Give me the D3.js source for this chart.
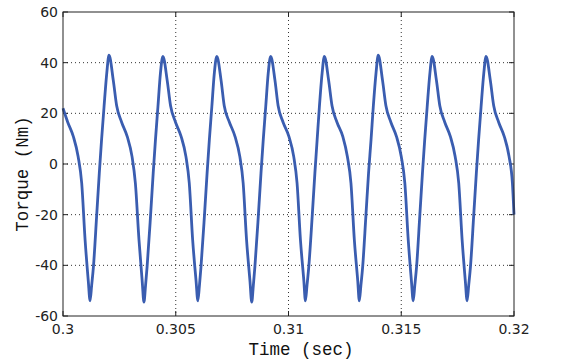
<!DOCTYPE html>
<html lang="en">
<head>
    <meta charset="UTF-8">
    <title>Torque</title>
    <script src="https://d3js.org/d3.v7.min.js"></script>
    <style>
        body { margin: 0; background: white; }
        .tick-label { font-family: "DejaVu Sans", sans-serif; font-size: 14px; fill: #222; }
        .axis-title { font-family: "Liberation Mono", "Courier New", monospace; font-size: 17.5px; fill: #111; }
        .grid { stroke: #333; stroke-width: 1; stroke-dasharray: 1,3; }
    </style>
</head>
<body>
    <svg id="chart" width="568" height="363"></svg>
    <script>
        // Time (sec) and torque (Nm)
        const time = [
            0.30000, 0.30021, 0.30046, 0.30067, 0.30083, 0.30098, 0.30112, 0.30120, 0.30127, 0.30135, 0.30149, 0.30161, 0.30171, 0.30182, 0.30194,
            0.30204, 0.30223, 0.30238, 0.30260, 0.30285, 0.30306, 0.30321, 0.30337, 0.30351, 0.30359, 0.30366, 0.30373, 0.30388, 0.30400, 0.30410, 0.30421, 0.30432,
            0.30443, 0.30462, 0.30477, 0.30499, 0.30524, 0.30545, 0.30560, 0.30575, 0.30590, 0.30598, 0.30605, 0.30612, 0.30627, 0.30639, 0.30649, 0.30660, 0.30671,
            0.30682, 0.30701, 0.30715, 0.30738, 0.30763, 0.30784, 0.30799, 0.30814, 0.30829, 0.30837, 0.30844, 0.30851, 0.30866, 0.30878, 0.30888, 0.30899, 0.30910,
            0.30921, 0.30940, 0.30954, 0.30976, 0.31002, 0.31023, 0.31038, 0.31053, 0.31068, 0.31075, 0.31082, 0.31090, 0.31105, 0.31117, 0.31127, 0.31137, 0.31149,
            0.31159, 0.31178, 0.31193, 0.31215, 0.31241, 0.31261, 0.31277, 0.31292, 0.31307, 0.31314, 0.31321, 0.31329, 0.31343, 0.31355, 0.31366, 0.31376, 0.31388,
            0.31398, 0.31417, 0.31432, 0.31454, 0.31479, 0.31500, 0.31516, 0.31531, 0.31545, 0.31553, 0.31560, 0.31568, 0.31582, 0.31594, 0.31604, 0.31615, 0.31627,
            0.31637, 0.31656, 0.31671, 0.31693, 0.31718, 0.31739, 0.31755, 0.31770, 0.31784, 0.31792, 0.31799, 0.31807, 0.31821, 0.31833, 0.31843, 0.31854, 0.31866,
            0.31876, 0.31895, 0.31910, 0.31932, 0.31957, 0.31978, 0.31993, 0.32000
        ];
        const torque = [
            22, 16.5, 10.8, 3, -7.6, -30, -46, -54, -48, -40.5, -20.8, -3.6, 9.5, 22.6, 35.8,
            43, 33, 23, 16.5, 10.8, 3, -7.6, -30, -46, -54.5, -48, -40.5, -20.8, -3.6, 9.5, 22.6, 35.8,
            42.5, 33, 23, 16.5, 10.8, 3, -7.6, -30, -46, -54, -48, -40.5, -20.8, -3.6, 9.5, 22.6, 35.8,
            42.5, 33, 23, 16.5, 10.8, 3, -7.6, -30, -46, -54.5, -48, -40.5, -20.8, -3.6, 9.5, 22.6, 35.8,
            42.5, 33, 23, 16.5, 10.8, 3, -7.6, -30, -46, -54, -48, -40.5, -20.8, -3.6, 9.5, 22.6, 35.8,
            42.5, 33, 23, 16.5, 10.8, 3, -7.6, -30, -46, -54, -48, -40.5, -20.8, -3.6, 9.5, 22.6, 35.8,
            43, 33, 23, 16.5, 10.8, 3, -7.6, -30, -46, -54, -48, -40.5, -20.8, -3.6, 9.5, 22.6, 35.8,
            42.5, 33, 23, 16.5, 10.8, 3, -7.6, -30, -46, -54, -48, -40.5, -20.8, -3.6, 9.5, 22.6, 35.8,
            42.5, 33, 23, 16.5, 10.8, 3, -7.6, -20
        ];
        const xTicks = [0.3, 0.305, 0.31, 0.315, 0.32];
        const yTicks = [-60, -40, -20, 0, 20, 40, 60];

        const svg = d3.select("#chart");
        const plotL = 63, plotR = 514, plotT = 12, plotB = 316;

        const x = d3.scaleLinear().domain([0.3, 0.32]).range([plotL, plotR]);
        const y = d3.scaleLinear().domain([-60, 60]).range([plotB, plotT]);

        // dotted grid
        svg.selectAll(".gx").data(xTicks.slice(1, -1)).enter().append("line")
            .attr("class", "grid")
            .attr("x1", d => x(d)).attr("x2", d => x(d))
            .attr("y1", plotT).attr("y2", plotB);
        svg.selectAll(".gy").data(yTicks.slice(1, -1)).enter().append("line")
            .attr("class", "grid")
            .attr("x1", plotL).attr("x2", plotR)
            .attr("y1", d => y(d)).attr("y2", d => y(d));

        // inward ticks on all four sides
        const tk = 5;
        xTicks.forEach(d => {
            svg.append("line").attr("x1", x(d)).attr("x2", x(d)).attr("y1", plotB).attr("y2", plotB - tk).attr("stroke", "#222");
            svg.append("line").attr("x1", x(d)).attr("x2", x(d)).attr("y1", plotT).attr("y2", plotT + tk).attr("stroke", "#222");
        });
        yTicks.forEach(d => {
            svg.append("line").attr("x1", plotL).attr("x2", plotL + tk).attr("y1", y(d)).attr("y2", y(d)).attr("stroke", "#222");
            svg.append("line").attr("x1", plotR).attr("x2", plotR - tk).attr("y1", y(d)).attr("y2", y(d)).attr("stroke", "#222");
        });

        // trace
        const pts = time.map((t, i) => [t, torque[i]]);
        const line = d3.line().x(d => x(d[0])).y(d => y(d[1])).curve(d3.curveMonotoneX);
        svg.append("path")
            .datum(pts)
            .attr("d", line)
            .attr("fill", "none")
            .attr("stroke", "#3a5db0")
            .attr("stroke-width", 2.8)
            .attr("stroke-linejoin", "round");

        // frame
        svg.append("rect")
            .attr("x", plotL).attr("y", plotT)
            .attr("width", plotR - plotL).attr("height", plotB - plotT)
            .attr("fill", "none").attr("stroke", "#222").attr("stroke-width", 1);

        // tick labels
        svg.selectAll(".xl").data(xTicks).enter().append("text")
            .attr("class", "tick-label")
            .attr("x", d => x(d)).attr("y", 334)
            .attr("text-anchor", "middle")
            .text(d => d);
        svg.selectAll(".yl").data(yTicks).enter().append("text")
            .attr("class", "tick-label")
            .attr("x", 58).attr("y", d => y(d) + 5)
            .attr("text-anchor", "end")
            .text(d => d);

        // axis titles
        svg.append("text").attr("class", "axis-title")
            .attr("x", 301).attr("y", 355)
            .attr("text-anchor", "middle")
            .text("Time (sec)");
        svg.append("text").attr("class", "axis-title")
            .attr("transform", "translate(28,174) rotate(-90)")
            .attr("text-anchor", "middle")
            .text("Torque (Nm)");
    </script>
</body>
</html>
